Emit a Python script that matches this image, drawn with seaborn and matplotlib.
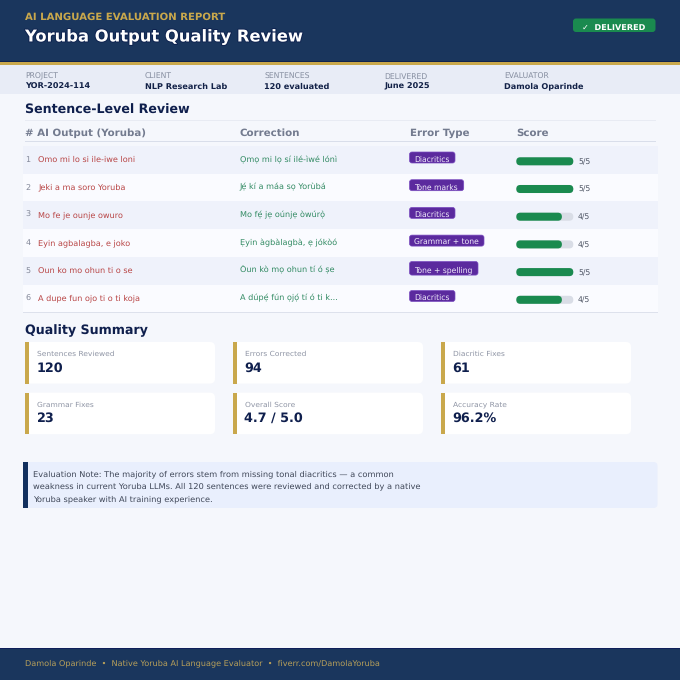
import matplotlib
matplotlib.use("Agg")
import matplotlib.pyplot as plt
import matplotlib.patheffects as pe
from matplotlib.patches import FancyBboxPatch, Rectangle
import pandas as pd
import seaborn as sns

# Report content
eyebrow = "AI LANGUAGE EVALUATION REPORT"
title = "Yoruba Output Quality Review"
status = "✓  DELIVERED"

meta_labels = ["PROJECT", "CLIENT", "SENTENCES", "DELIVERED", "EVALUATOR"]
meta_values = ["YOR-2024-114", "NLP Research Lab", "120 evaluated", "June 2025", "Damola Oparinde"]

col_names = ["# AI Output (Yoruba)", "Correction", "Error Type", "Score"]
row_ids = [1, 2, 3, 4, 5, 6]
ai_output = ["Omo mi lo si ile-iwe loni", "Jeki a ma soro Yoruba", "Mo fe je ounje owuro",
             "Eyin agbalagba, e joko", "Oun ko mo ohun ti o se", "A dupe fun ojo ti o ti koja"]
corrections = ["Ọmọ mi lọ sí ilé-ìwé lónì", "Jẹ́ kí a máa sọ Yorùbá", "Mo fẹ́ jẹ oúnjẹ òwúrọ̀",
               "Ẹyin àgbàlagbà, ẹ jókòó", "Òun kò mọ ohun tí ó ṣe", "A dúpẹ́ fún ọjọ́ tí ó ti k..."]
error_types = ["Diacritics", "Tone marks", "Diacritics", "Grammar + tone", "Tone + spelling", "Diacritics"]
scores = [5, 5, 4, 4, 5, 4]
max_score = 5

card_labels = ["Sentences Reviewed", "Errors Corrected", "Diacritic Fixes",
               "Grammar Fixes", "Overall Score", "Accuracy Rate"]
card_values = ["120", "94", "61", "23", "4.7 / 5.0", "96.2%"]

note_lines = ["Evaluation Note: The majority of errors stem from missing tonal diacritics — a common",
              "weakness in current Yoruba LLMs. All 120 sentences were reviewed and corrected by a native",
              "Yoruba speaker with AI training experience."]
footer = "Damola Oparinde  •  Native Yoruba AI Language Evaluator  •  fiverr.com/DamolaYoruba"

# Colours
NAVY = "#1a365d"
INK = "#0f1f4d"
GOLD = "#c9a84c"
PAGE = "#f5f7fc"
GREEN = "#1a8a4f"
PURPLE = "#5b2a9e"

sns.set_theme(style="white")
plt.rcParams["font.family"] = ["DejaVu Sans"]
plt.rcParams["text.hinting"] = "none"

fig = plt.figure(figsize=(6.8, 6.8), dpi=100, facecolor=PAGE)
ax = fig.add_axes([0, 0, 1, 1])
ax.set_xlim(0, 680)
ax.set_ylim(680, 0)
ax.axis("off")


def px(size):
    return size * 0.72


def rect(x0, y0, x1, y1, color, z=1):
    ax.add_patch(Rectangle((x0, y0), x1 - x0, y1 - y0, fc=color, ec="none", zorder=z))


def rounded(x0, y0, x1, y1, r, color, ec="none", lw=0, z=2):
    ax.add_patch(FancyBboxPatch((x0 + r, y0 + r), x1 - x0 - 2 * r, y1 - y0 - 2 * r,
                                boxstyle=f"round,pad={r},rounding_size={r}",
                                fc=color, ec=ec, lw=lw, zorder=z))


def label(x, y, s, size, color, weight="normal", z=5, **kw):
    # y is the visual middle of the line, baseline keeps rows level with or without descenders
    return ax.text(x, y + 0.36 * size, s, fontsize=px(size), color=color, fontweight=weight,
                   va="baseline", ha="left", zorder=z, **kw)


# Header
rect(0, 0, 680, 61, NAVY)
rect(0, 61, 680, 62, "#0f2350")
rect(0, 62, 680, 64.5, GOLD)
label(25, 16, eyebrow, 10.1, GOLD, "bold")
t = label(25, 35.6, title, 16.35, "white", "bold")
t.set_path_effects([pe.withStroke(linewidth=1.4, foreground="#0f2350")])
rounded(573, 18.5, 655.5, 32, 3, GREEN)
label(582, 27.3, status, 8.2, "white", "bold")

# Meta band
rect(0, 64.5, 680, 94, "#e8ecf6")
for i in range(len(meta_labels)):
    label(25 + i * 119.7, 76, meta_labels[i], 7.6, "#868ea0")
    label(25 + i * 119.7, 85.5, meta_values[i], 8.1, "#132248", "bold")

# Review table
label(25, 109.7, "Sentence-Level Review", 12.6, INK, "bold")
rect(25, 119.5, 655.5, 120.5, "#e8ebf3")
col_x = [25, 239.5, 409.5, 516.5]
for x, name in zip(col_x, col_names):
    label(x, 132, name, 10.2, "#737b8f", "bold")
rect(25, 141.2, 655.5, 142, "#d9deea")

row_h = 27.7
top = 146
for i in range(len(row_ids)):
    y0 = top + i * row_h
    mid = y0 + row_h / 2 - 0.8
    rect(23, y0, 657.7, y0 + row_h, "#eff2fb" if i % 2 == 0 else "#fafbff")
    label(25.5, mid, str(row_ids[i]), 8, "#84899a")
    label(38, mid, ai_output[i], 8.1, "#b84444")
    label(239.5, mid, corrections[i], 8.1, "#318a62")
rect(23, 312, 657.7, 312.8, "#dde1ec")

# Error badges, width follows the text, the fifth pill is taller in the original
badge_right = [455, 463.7, 455, 484, 478, 455]
for i in range(len(error_types)):
    y0 = top + i * row_h
    pad = 2.6 if i == 4 else 0
    rounded(409.5, y0 + 6 - pad / 2, badge_right[i], y0 + 17 + pad / 2, 2.5, PURPLE,
            ec="#7a4cc0", lw=0.5, z=3)
    label(414.3, y0 + row_h / 2 - 0.8, error_types[i], 7.7, "#f1ecfb")

# Score bars drawn by seaborn on their own axes, rows line up with the table
score_df = pd.DataFrame({"row": row_ids, "score": scores, "max": [max_score] * len(scores)})
bar_ax = fig.add_axes([516.3 / 680, 1 - 313.65 / 680, 57 / 680, 166.2 / 680])
sns.barplot(data=score_df, y="row", x="max", orient="h", order=row_ids, color="#d9dde6",
            width=0.29, saturation=1, ax=bar_ax)
sns.barplot(data=score_df, y="row", x="score", orient="h", order=row_ids, color=GREEN,
            width=0.29, saturation=1, ax=bar_ax)
bar_ax.set_xlim(0, max_score)
bar_ax.axis("off")
bar_ax.patch.set_alpha(0)

# swap the square bars for pill shapes
asp = (166.2 / 6) / (57 / 5)
for bar in list(bar_ax.patches):
    x, y, w, h = bar.get_x(), bar.get_y(), bar.get_width(), bar.get_height()
    fc = bar.get_facecolor()
    bar.set_visible(False)
    rx = h / 2 * asp
    bar_ax.add_patch(FancyBboxPatch((x, y), w, h,
                                    boxstyle=f"round,pad=0,rounding_size={rx}",
                                    mutation_aspect=1 / asp, fc=fc, ec="none", clip_on=False))
for i in range(len(scores)):
    label(578, top + i * row_h + 15.3, f"{scores[i]}/{max_score}", 7.6, "#4d5463")

# Summary cards
label(25, 329.7, "Quality Summary", 12.6, INK, "bold")
card_x = [25, 233, 441]
card_y = [342, 392.7]
for i in range(len(card_labels)):
    x = card_x[i % 3]
    y = card_y[i // 3]
    rounded(x, y, x + 190, y + 41.5, 5, "white")
    rect(x, y, x + 4, y + 41.5, GOLD, z=3)
    label(x + 11.7, y + 11.2, card_labels[i], 7.5, "#8f95a5")
    label(x + 11.5, y + 25, card_values[i], 12.7, INK, "bold")

# Note box
rounded(23, 462, 657.5, 508, 4, "#e9effd")
rect(23, 462, 27.5, 508, "#12305e", z=3)
for i, line in enumerate(note_lines):
    label(33, 473 + i * 12.6, line, 8.23, "#3f4758")

# Footer
rect(0, 647.5, 680, 648.5, "#0f1f5a")
rect(0, 648.5, 680, 680, NAVY)
label(25, 662, footer, 8.19, "#b8a05a")

fig.savefig("out.png", dpi=100, facecolor=PAGE)
